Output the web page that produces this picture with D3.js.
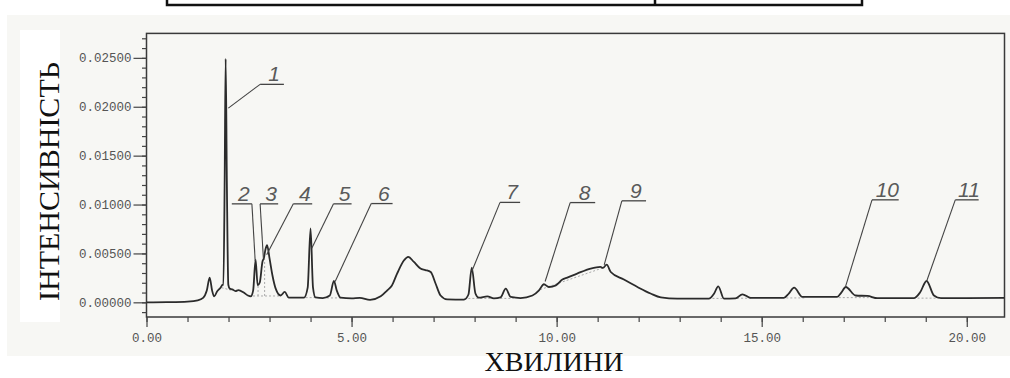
<!DOCTYPE html>
<html>
<head>
<meta charset="utf-8">
<script src="https://cdn.jsdelivr.net/npm/d3@7/dist/d3.min.js"></script>
<style>
  html, body { margin: 0; padding: 0; background: #fff; }
  svg { display: block; }
  .tick-label { font-family: "Liberation Mono", "DejaVu Sans Mono", monospace; font-size: 12.5px; fill: #555; }
  .axis-title { font-family: "Liberation Serif", "DejaVu Serif", serif; fill: #111; }
  .peak-num { font-family: "Liberation Sans", Arial, sans-serif; font-style: italic; font-size: 21px; fill: #5a5a5a; }
</style>
</head>
<body>
<svg id="chart" width="1010" height="378"></svg>
<script>
// Chromatogram trace: retention time (min) and intensity.
var RT_MIN = [
  0.00, 0.50, 1.00, 1.25, 1.38, 1.47, 1.54, 1.60, 1.65, 1.72, 1.80, 1.86,
  1.875, 1.905, 1.93, 1.96, 1.995,
  2.03, 2.09, 2.17, 2.24, 2.37, 2.47, 2.54, 2.60, 2.66, 2.71, 2.76, 2.83, 2.86, 2.90, 2.94,
  3.00, 3.07, 3.15, 3.27, 3.37, 3.47, 3.84, 3.93, 4.00, 4.06, 4.12, 4.30, 4.47, 4.57, 4.64, 4.73,
  5.00, 5.20, 5.45, 5.71, 5.87, 5.98, 6.11, 6.28, 6.38, 6.52, 6.68, 6.80, 6.93, 7.05, 7.17, 7.33,
  7.74, 7.85, 7.93, 8.02, 8.10, 8.31, 8.47, 8.63, 8.76, 8.88, 9.12, 9.41, 9.57, 9.69, 9.81, 9.98,
  10.14, 10.26, 10.50, 10.83, 11.07, 11.13, 11.22, 11.32, 11.64, 11.97, 12.29, 12.54, 12.94,
  13.71, 13.84, 13.94, 14.08, 14.36, 14.53, 14.73, 15.54, 15.66, 15.79, 15.99, 16.84, 16.94,
  17.05, 17.29, 17.58, 17.82, 18.71, 18.86, 19.02, 19.20, 19.37, 20.00, 20.91
];
var SIGNAL = [
  0.00000, 0.00002, 0.00008, 0.00020, 0.00045, 0.00120, 0.00253, 0.00120, 0.00060, 0.00110, 0.00147, 0.00180,
  0.00180, 0.01200, 0.02490, 0.01200, 0.00180,
  0.00140, 0.00133, 0.00115, 0.00125, 0.00100, 0.00070, 0.00060, 0.00120, 0.00437, 0.00174, 0.00200, 0.00420, 0.00448, 0.00540, 0.00584,
  0.00450, 0.00277, 0.00140, 0.00070, 0.00106, 0.00048, 0.00048, 0.00150, 0.00755, 0.00150, 0.00050, 0.00044, 0.00070, 0.00220, 0.00120, 0.00048,
  0.00040, 0.00045, 0.00025, 0.00061, 0.00123, 0.00170, 0.00294, 0.00430, 0.00465, 0.00413, 0.00345, 0.00330, 0.00310, 0.00190, 0.00070, 0.00030,
  0.00027, 0.00080, 0.00355, 0.00090, 0.00048, 0.00060, 0.00040, 0.00050, 0.00140, 0.00055, 0.00044, 0.00070, 0.00123, 0.00185, 0.00157, 0.00174,
  0.00233, 0.00253, 0.00294, 0.00345, 0.00362, 0.00352, 0.00385, 0.00310, 0.00233, 0.00157, 0.00090, 0.00050, 0.00038,
  0.00038, 0.00090, 0.00164, 0.00038, 0.00040, 0.00082, 0.00045, 0.00045, 0.00090, 0.00150, 0.00055, 0.00055, 0.00100,
  0.00157, 0.00070, 0.00065, 0.00042, 0.00042, 0.00100, 0.00218, 0.00070, 0.00042, 0.00042, 0.00045
];

// Numbered peak callouts: underline start/end time, underline level, leader tip (time, intensity).
var PEAK_LABELS = ['1', '2', '3', '4', '5', '6', '7', '8', '9', '10', '11'];
var LABEL_T0    = [2.77, 2.08, 2.77, 3.58, 4.56, 5.48, 8.62, 10.33, 11.59, 17.69, 19.72];
var LABEL_T1    = [3.35, 2.57, 3.21, 4.04, 5.00, 6.00, 9.11, 10.94, 12.18, 18.34, 20.29];
var LABEL_V     = [0.02229, 0.01007, 0.01007, 0.01007, 0.01007, 0.01010, 0.01022, 0.01020, 0.01038, 0.01048, 0.01048];
var LEADER_FROM = ['start', 'end', 'start', 'start', 'start', 'start', 'start', 'start', 'start', 'start', 'start'];
var TIP_T       = [1.995, 2.65, 2.85, 2.93, 4.03, 4.60, 7.93, 9.72, 11.16, 17.04, 19.02];
var TIP_V       = [0.01986, 0.00424, 0.00452, 0.00486, 0.00554, 0.00213, 0.00315, 0.00213, 0.00383, 0.00155, 0.00213];

// Faint dashed integration baselines drawn by the integrator: [t0, v0, t1, v1].
var BASELINES = [
  [1.83, 0.00150, 2.10, 0.00120],
  [2.50, 0.00065, 3.25, 0.00065],
  [2.72, 0.00065, 2.72, 0.00170],
  [2.88, 0.00065, 2.88, 0.00440],
  [3.88, 0.00048, 4.12, 0.00048],
  [4.40, 0.00045, 4.78, 0.00045],
  [7.75, 0.00040, 8.95, 0.00040],
  [9.60, 0.00130, 11.18, 0.00360],
  [13.80, 0.00040, 14.10, 0.00040],
  [14.40, 0.00042, 14.75, 0.00042],
  [15.60, 0.00045, 16.05, 0.00045],
  [16.88, 0.00048, 17.70, 0.00048],
  [18.80, 0.00043, 19.40, 0.00043]
];

var Y_MAJOR = [0, 0.005, 0.010, 0.015, 0.020, 0.025];
var Y_MINOR = d3.range(-1, 28).map(function (i) { return i * 0.001; });
var X_MAJOR = [0, 5, 10, 15, 20];
var X_MINOR = d3.range(0, 21);

var svg = d3.select('#chart');

// scanned-sheet background
svg.append('rect').attr('x', 7).attr('y', 15).attr('width', 1003).attr('height', 341).attr('fill', '#f7f7f4');
svg.append('rect').attr('x', 20).attr('y', 30).attr('width', 40).attr('height', 292).attr('fill', '#fff');

// header box cut off at the top
svg.append('rect').attr('x', 167).attr('y', -6).attr('width', 695).attr('height', 11)
  .attr('fill', '#fff').attr('stroke', '#111').attr('stroke-width', 2.5);
svg.append('line').attr('x1', 655).attr('x2', 655).attr('y1', -6).attr('y2', 5)
  .attr('stroke', '#111').attr('stroke-width', 2.5);

var x = d3.scaleLinear().domain([0, 20.92]).range([146.5, 1004.5]);
var y = d3.scaleLinear().domain([-0.0015, 0.0275]).range([317, 33.4]);

// frame
svg.append('rect').attr('x', x(0)).attr('y', y(0.0275))
  .attr('width', x(20.92) - x(0)).attr('height', y(-0.0015) - y(0.0275))
  .attr('fill', 'none').attr('stroke', '#3a3a3a').attr('stroke-width', 1.5);

// y axis
var yMinor = d3.axisLeft(y).tickValues(Y_MINOR).tickSize(4.5).tickFormat('');
var gyMin = svg.append('g').attr('transform', 'translate(' + x(0) + ',0)').call(yMinor);
var yMajor = d3.axisLeft(y).tickValues(Y_MAJOR).tickSize(13).tickPadding(2).tickFormat(d3.format('.5f'));
var gy = svg.append('g').attr('transform', 'translate(' + x(0) + ',0)').call(yMajor);
[gyMin, gy].forEach(function (g) {
  g.select('.domain').remove();
  g.selectAll('.tick line').attr('stroke', '#444').attr('stroke-width', 1.2);
});
gy.selectAll('.tick text').attr('class', 'tick-label').attr('fill', null).attr('font-family', null).attr('font-size', null);

// x axis (ticks hang below the frame)
var xMinor = d3.axisBottom(x).tickValues(X_MINOR).tickSize(5).tickFormat('');
var gxMin = svg.append('g').attr('transform', 'translate(0,' + y(-0.0015) + ')').call(xMinor);
var xMajor = d3.axisBottom(x).tickValues(X_MAJOR).tickSize(10).tickPadding(6).tickFormat(d3.format('.2f'));
var gx = svg.append('g').attr('transform', 'translate(0,' + y(-0.0015) + ')').call(xMajor);
[gxMin, gx].forEach(function (g) {
  g.select('.domain').remove();
  g.selectAll('.tick line').attr('stroke', '#444').attr('stroke-width', 1.2);
});
gx.selectAll('.tick text').attr('class', 'tick-label').attr('fill', null).attr('font-family', null).attr('font-size', null);

// integration baselines
svg.append('g').selectAll('line').data(BASELINES).join('line')
  .attr('x1', function (d) { return x(d[0]); }).attr('y1', function (d) { return y(d[1]); })
  .attr('x2', function (d) { return x(d[2]); }).attr('y2', function (d) { return y(d[3]); })
  .attr('stroke', '#aaa').attr('stroke-width', 1).attr('stroke-dasharray', '2,2');

// trace
var pts = RT_MIN.map(function (t, i) { return [t, SIGNAL[i]]; });
var line = d3.line().x(function (d) { return x(d[0]); }).y(function (d) { return y(d[1]); }).curve(d3.curveMonotoneX);
svg.append('path').datum(pts).attr('d', line)
  .attr('fill', 'none').attr('stroke', '#2b2b2b').attr('stroke-width', 1.8).attr('stroke-linejoin', 'round');

// peak callouts
var callouts = PEAK_LABELS.map(function (n, i) {
  return { n: n, t0: LABEL_T0[i], t1: LABEL_T1[i], v: LABEL_V[i], from: LEADER_FROM[i], tt: TIP_T[i], tv: TIP_V[i] };
});
var gc = svg.append('g').selectAll('g').data(callouts).join('g');
gc.append('line')
  .attr('x1', function (d) { return x(d.t0); }).attr('x2', function (d) { return x(d.t1); })
  .attr('y1', function (d) { return y(d.v); }).attr('y2', function (d) { return y(d.v); })
  .attr('stroke', '#444').attr('stroke-width', 1.3);
gc.append('line')
  .attr('x1', function (d) { return x(d.from === 'end' ? d.t1 : d.t0); })
  .attr('y1', function (d) { return y(d.v); })
  .attr('x2', function (d) { return x(d.tt); }).attr('y2', function (d) { return y(d.tv); })
  .attr('stroke', '#444').attr('stroke-width', 1.1);
gc.append('text').attr('class', 'peak-num')
  .attr('x', function (d) { return (x(d.t0) + x(d.t1)) / 2 + 2; })
  .attr('y', function (d) { return y(d.v) - 3; })
  .attr('text-anchor', 'middle')
  .text(function (d) { return d.n; });

// axis titles
svg.append('text').attr('class', 'axis-title').attr('font-size', 30)
  .attr('transform', 'translate(59,181.5) rotate(-90)').attr('text-anchor', 'middle')
  .text('ІНТЕНСИВНІСТЬ');
svg.append('text').attr('class', 'axis-title').attr('font-size', 28)
  .attr('x', 554).attr('y', 371).attr('text-anchor', 'middle')
  .text('ХВИЛИНИ');
</script>
</body>
</html>
